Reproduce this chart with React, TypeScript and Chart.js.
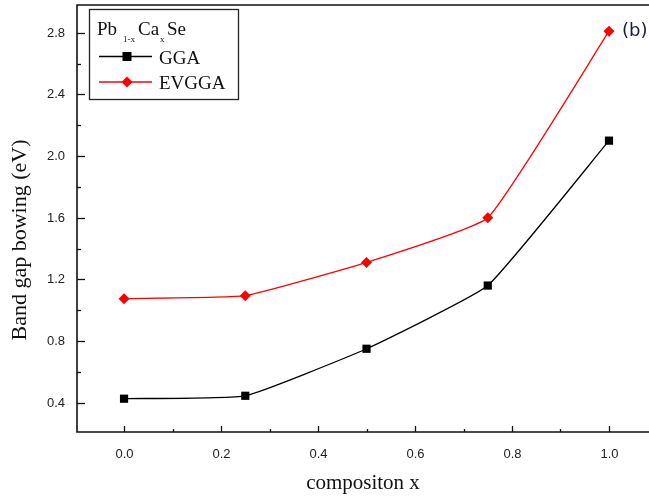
import React, { useEffect, useRef } from 'react';
import { Chart, registerables } from 'chart.js';

Chart.register(...registerables);

const compositions = [0, 0.25, 0.5, 0.75, 1.0];
const ggaValues = [0.426, 0.445, 0.75, 1.16, 2.1];
const evggaValues = [1.075, 1.094, 1.31, 1.6, 2.81];
const seriesNames = ['GGA', 'EVGGA'];
const xTickValues = [0, 0.2, 0.4, 0.6, 0.8, 1.0];
const xMinorTickValues = [0.1, 0.3, 0.5, 0.7, 0.9];
const yTickValues = [0.4, 0.8, 1.2, 1.6, 2.0, 2.4, 2.8];
const yMinorTickValues = [0.6, 1.0, 1.4, 1.8, 2.2, 2.6];
const xTitle = 'compositon x';
const yTitle = 'Band gap bowing (eV)';
const panelLabel = '(b)';

const SERIF = '"Liberation Serif", "Times New Roman", serif';
const SANS = '"Liberation Sans", Arial, sans-serif';

const framePlugin = {
  id: 'originFrame',
  afterDraw(chart: any) {
    const { ctx, chartArea: a, scales } = chart;
    const x = scales.x;
    const y = scales.y;
    ctx.save();
    // frame
    ctx.strokeStyle = '#111';
    ctx.lineWidth = 1.6;
    ctx.beginPath();
    ctx.moveTo(a.right + 2, a.top);
    ctx.lineTo(a.left, a.top);
    ctx.lineTo(a.left, a.bottom);
    ctx.lineTo(a.right + 2, a.bottom);
    ctx.stroke();
    // ticks (inward) and tick labels
    ctx.lineWidth = 1.3;
    const seg = (x1: number, y1: number, x2: number, y2: number) => {
      ctx.beginPath();
      ctx.moveTo(x1, y1);
      ctx.lineTo(x2, y2);
      ctx.stroke();
    };
    ctx.fillStyle = '#222';
    ctx.font = '13px ' + SANS;
    ctx.textAlign = 'right';
    ctx.textBaseline = 'middle';
    yTickValues.forEach((v) => {
      const p = Math.round(y.getPixelForValue(v)) + 0.5;
      seg(a.left, p, a.left + 8, p);
      ctx.fillText(v.toFixed(1), a.left - 12, p);
    });
    yMinorTickValues.forEach((v) => {
      const p = Math.round(y.getPixelForValue(v)) + 0.5;
      seg(a.left, p, a.left + 4, p);
    });
    ctx.textAlign = 'center';
    xTickValues.forEach((v) => {
      const p = Math.round(x.getPixelForValue(v)) + 0.5;
      seg(p, a.bottom, p, a.bottom - 6);
      ctx.fillText(v.toFixed(1), p, a.bottom + 22);
    });
    xMinorTickValues.forEach((v) => {
      const p = Math.round(x.getPixelForValue(v)) + 0.5;
      seg(p, a.bottom, p, a.bottom - 3);
    });

    // axis titles
    ctx.fillStyle = '#111';
    ctx.font = '21px ' + SERIF;
    ctx.textAlign = 'center';
    ctx.textBaseline = 'middle';
    ctx.fillText(xTitle, 363, 483);
    ctx.save();
    ctx.translate(20, 240);
    ctx.rotate(-Math.PI / 2);
    ctx.font = '22px ' + SERIF;
    ctx.fillText(yTitle, 0, 0);
    ctx.restore();

    // panel label
    ctx.font = '18px "DejaVu Sans", Verdana, sans-serif';
    ctx.fillStyle = '#1b1b40';
    ctx.textAlign = 'left';
    ctx.fillText(panelLabel, 622, 31);

    // legend
    const lx = 89.5, ly = 9.5, lw = 149, lh = 90;
    ctx.strokeStyle = '#222';
    ctx.lineWidth = 1.3;
    ctx.strokeRect(lx, ly, lw, lh);
    ctx.fillStyle = '#111';
    ctx.textBaseline = 'alphabetic';
    ctx.textAlign = 'left';
    ctx.font = '19px ' + SERIF;
    ctx.fillText('Pb', 97, 35);
    ctx.fillText('Ca', 138, 35);
    ctx.fillText('Se', 167, 35);
    ctx.font = '9px ' + SERIF;
    ctx.fillText('1-x', 123, 42);
    ctx.fillText('x', 160, 42);

    const rows = [56.5, 82];
    chart.data.datasets.forEach((ds: any, i: number) => {
      const ry = rows[i];
      ctx.strokeStyle = ds.borderColor;
      ctx.lineWidth = 1.3;
      seg(99, ry, 152, ry);
      ctx.fillStyle = ds.pointBackgroundColor;
      ctx.beginPath();
      if (ds.pointStyle === 'rect') {
        ctx.rect(127 - 4.5, ry - 4.5, 9, 9);
      } else {
        ctx.moveTo(127, ry - 5.5);
        ctx.lineTo(132.5, ry);
        ctx.lineTo(127, ry + 5.5);
        ctx.lineTo(121.5, ry);
        ctx.closePath();
      }
      ctx.fill();
      ctx.fillStyle = '#111';
      ctx.font = '19px ' + SERIF;
      ctx.fillText(ds.label, 159, ry + 7);
    });
    ctx.restore();
  },
};

export default function App() {
  const canvasRef = useRef<HTMLCanvasElement | null>(null);

  useEffect(() => {
    const canvas = canvasRef.current;
    if (!canvas) return;
    const chart = new Chart(canvas, {
      type: 'line',
      data: {
        datasets: [
          {
            label: seriesNames[0],
            data: compositions.map((c, i) => ({ x: c, y: ggaValues[i] })),
            borderColor: '#000000',
            backgroundColor: '#000000',
            pointBackgroundColor: '#000000',
            pointBorderColor: '#000000',
            pointStyle: 'rect',
            pointRadius: 5.8,
            pointBorderWidth: 0,
            borderWidth: 1.3,
            tension: 0.12,
          },
          {
            label: seriesNames[1],
            data: compositions.map((c, i) => ({ x: c, y: evggaValues[i] })),
            borderColor: '#ff0000',
            backgroundColor: '#ff0000',
            pointBackgroundColor: '#ff0000',
            pointBorderColor: '#ff0000',
            pointStyle: 'rectRot',
            pointRadius: 5.5,
            pointBorderWidth: 0,
            borderWidth: 1.3,
            tension: 0.12,
          },
        ],
      },
      options: {
        responsive: false,
        animation: false,
        devicePixelRatio: 1,
        layout: { autoPadding: false, padding: { left: 77, top: 5, right: 0, bottom: 70 } },
        plugins: {
          legend: { display: false },
          tooltip: { enabled: false },
          title: { display: false },
        },
        scales: {
          x: {
            type: 'linear',
            display: false,
            min: -0.097,
            max: 1.0825,
          },
          y: {
            type: 'linear',
            display: false,
            min: 0.21,
            max: 2.98,
          },
        },
      },
      plugins: [framePlugin],
    });
    return () => chart.destroy();
  }, []);

  return (
    <div style={{ position: 'fixed', left: 0, top: 0, width: 649, height: 502, background: '#fff' }}>
      <canvas ref={canvasRef} width={649} height={502} style={{ display: 'block' }} />
    </div>
  );
}
